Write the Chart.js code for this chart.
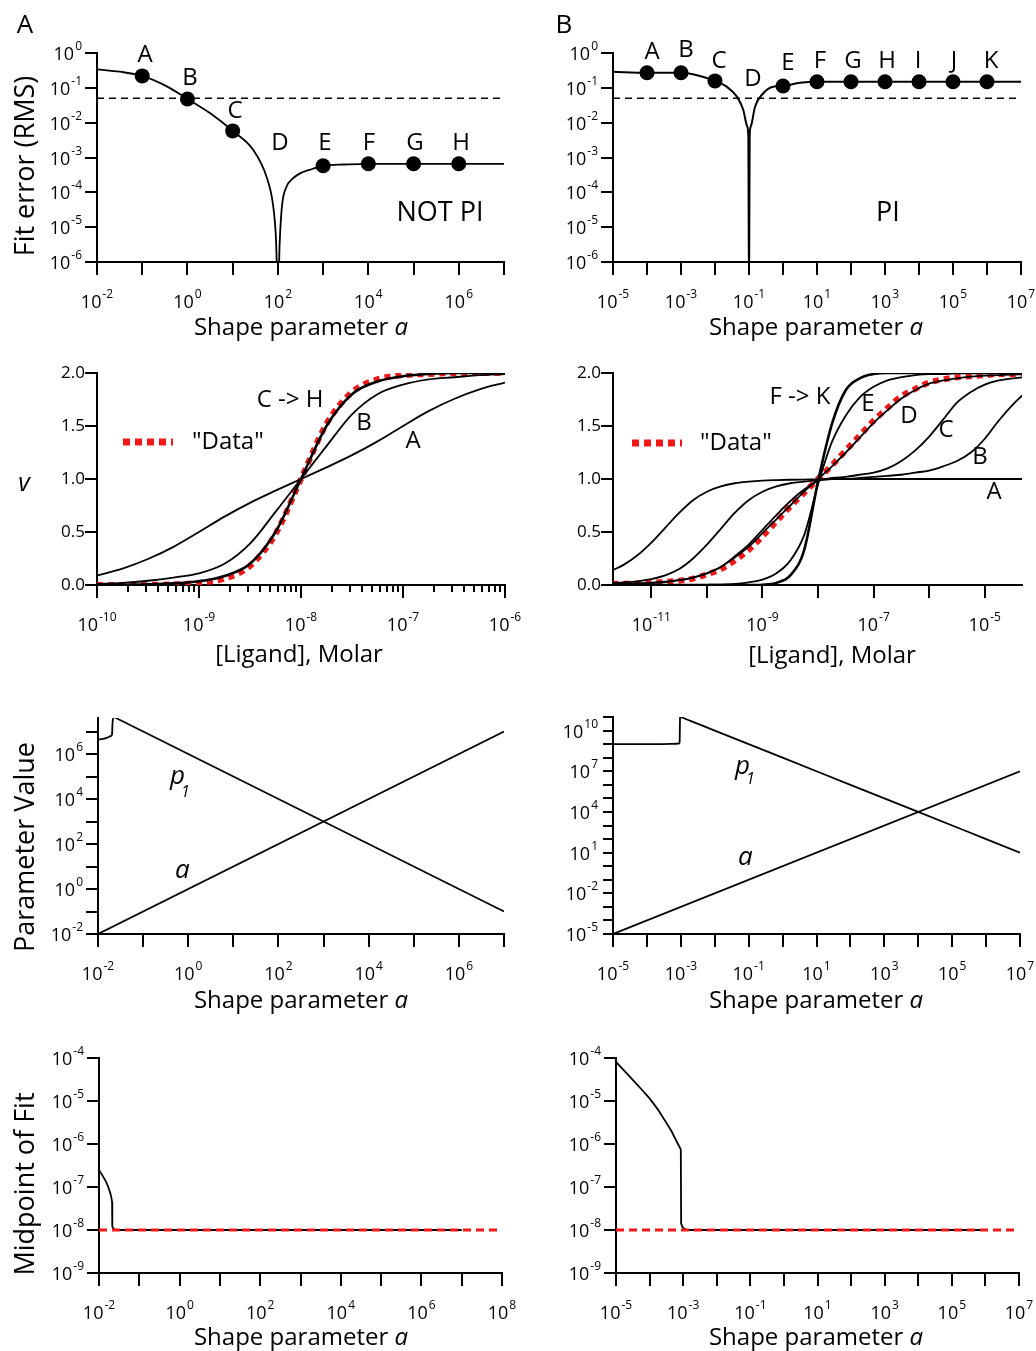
<!DOCTYPE html>
<html>
<head>
<meta charset="utf-8">
<script src="https://cdn.jsdelivr.net/npm/chart.js@4.4.1/dist/chart.umd.min.js"></script>
<style>
  html, body { margin: 0; padding: 0; background: #fff; }
  #wrap { position: relative; width: 1036px; height: 1351px; overflow: hidden; }
  #wrap canvas { position: absolute; left: 0; top: 0; }
</style>
</head>
<body>
<div id="wrap"></div>
<script>
const FONT = '"Open Sans", "DejaVu Sans", sans-serif';
const RED = "#f01818";

// Fit error (RMS) vs shape parameter a, NOT PI case
const errAx = [0.01, 0.032, 0.1, 0.35, 1, 3.2, 10, 29, 56, 79, 91, 100, 110, 123, 155, 200, 309, 500, 1000, 3000, 1e4, 1e5, 1e6, 1e7];
const errAy = [0.34, 0.29, 0.22, 0.11, 0.048, 0.0186, 0.0058, 0.0016, 2.8e-4, 3.9e-5, 4.3e-6, 1e-7, 4e-6, 4e-5, 1.45e-4, 2.3e-4, 3.5e-4, 4.4e-4, 5.8e-4, 6.3e-4, 6.6e-4, 6.6e-4, 6.6e-4, 6.6e-4];
const dotAx = [0.1, 1, 10, 1000, 1e4, 1e5, 1e6];
const dotAy = [0.22, 0.048, 0.0058, 5.8e-4, 6.6e-4, 6.6e-4, 6.6e-4];

// Fit error (RMS) vs shape parameter a, PI case
const errBx = [1e-5, 1e-4, 1e-3, 3.6e-3, 0.01, 0.022, 0.044, 0.068, 0.089, 0.0955, 0.1, 0.1047, 0.112, 0.151, 0.263, 0.513, 1, 3.16, 10, 1e7];
const errBy = [0.29, 0.27, 0.27, 0.22, 0.158, 0.108, 0.056, 0.023, 0.0076, 0.004, 1e-7, 0.004, 0.0076, 0.029, 0.07, 0.108, 0.113, 0.14, 0.15, 0.15];
const dotBx = [1e-4, 1e-3, 0.01, 1, 10, 100, 1e3, 1e4, 1e5, 1e6];
const dotBy = [0.27, 0.27, 0.158, 0.113, 0.15, 0.15, 0.15, 0.15, 0.15, 0.15];

const errLimit = 0.05;

// Binding curves, NOT PI (log10 of ligand molar)
const ligA = [-10, -9.75, -9.5, -9.25, -9, -8.75, -8.5, -8.25, -8, -7.75, -7.5, -7.25, -7, -6.75, -6.5, -6.25, -6];
const vA_A = [0.09, 0.155, 0.245, 0.36, 0.50, 0.645, 0.775, 0.89, 1.0, 1.11, 1.225, 1.355, 1.50, 1.64, 1.755, 1.845, 1.91];
const vA_B = [0.01, 0.02, 0.04, 0.07, 0.11, 0.20, 0.39, 0.69, 1.0, 1.31, 1.61, 1.80, 1.89, 1.94, 1.96, 1.98, 1.99];
const vA_CH = [0.0, 0.002, 0.006, 0.015, 0.035, 0.085, 0.20, 0.50, 1.0, 1.50, 1.80, 1.92, 1.97, 1.99, 2.0, 2.0, 2.0];
const vA_data = [0.0, 0.001, 0.002, 0.006, 0.02, 0.06, 0.18, 0.48, 1.0, 1.52, 1.82, 1.94, 1.98, 1.99, 2.0, 2.0, 2.0];

// Binding curves, PI (log10 of ligand molar)
const ligB = [-11.7, -11.5, -11.25, -11, -10.75, -10.5, -10.25, -10, -9.75, -9.5, -9.25, -9, -8.75, -8.5, -8.25, -8,
              -7.75, -7.5, -7.25, -7, -6.75, -6.5, -6.25, -6, -5.75, -5.5, -5.25, -5, -4.75, -4.5, -4.3];
const vB_A = [0.14, 0.19, 0.28, 0.40, 0.54, 0.68, 0.80, 0.88, 0.93, 0.96, 0.975, 0.985, 0.99, 0.993, 0.995, 0.997,
              0.998, 1, 1, 1, 1, 1, 1, 1, 1, 1, 1, 1, 1, 1, 1];
const vB_B = [0.02, 0.025, 0.035, 0.055, 0.09, 0.15, 0.25, 0.38, 0.53, 0.68, 0.80, 0.88, 0.93, 0.96, 0.975, 0.99,
              1.0, 1.0, 1.01, 1.02, 1.03, 1.04, 1.06, 1.08, 1.12, 1.17, 1.25, 1.38, 1.55, 1.70, 1.80];
const vB_C = [0.005, 0.008, 0.012, 0.018, 0.028, 0.045, 0.07, 0.11, 0.17, 0.27, 0.38, 0.52, 0.66, 0.79, 0.90, 0.98,
              1.01, 1.02, 1.04, 1.06, 1.10, 1.17, 1.27, 1.40, 1.56, 1.72, 1.82, 1.89, 1.93, 1.95, 1.96];
const vB_D = [0.01, 0.012, 0.016, 0.022, 0.032, 0.045, 0.07, 0.11, 0.17, 0.26, 0.36, 0.49, 0.62, 0.75, 0.88, 1.0,
              1.12, 1.25, 1.39, 1.53, 1.65, 1.76, 1.84, 1.90, 1.93, 1.95, 1.965, 1.975, 1.98, 1.985, 1.99];
const vB_E = [0, 0, 0, 0, 0, 0, 0.001, 0.002, 0.004, 0.01, 0.025, 0.05, 0.11, 0.23, 0.47, 0.95,
              1.35, 1.60, 1.77, 1.87, 1.93, 1.96, 1.98, 1.99, 1.99, 2, 2, 2, 2, 2, 2];
const vB_FK = [0, 0, 0, 0, 0, 0, 0, 0, 0, 0, 0, 0.003, 0.02, 0.09, 0.33, 0.98,
               1.52, 1.84, 1.95, 1.99, 2, 2, 2, 2, 2, 2, 2, 2, 2, 2, 2];
const vB_data = [0.01, 0.012, 0.015, 0.02, 0.03, 0.04, 0.06, 0.10, 0.15, 0.23, 0.33, 0.46, 0.60, 0.74, 0.87, 1.0,
                 1.13, 1.27, 1.41, 1.55, 1.67, 1.78, 1.85, 1.91, 1.94, 1.96, 1.97, 1.98, 1.99, 1.99, 2.0];

// Parameter values vs a
const parAx = [0.01, 1e7];
const parAy = [0.01, 1e7];
const p1Ax = [0.01, 0.013, 0.016, 0.019, 0.0205, 0.021, 0.0225, 0.024, 0.03, 0.05, 0.1, 1, 10, 100, 1000, 1e4, 1e5, 1e6, 1e7];
const p1Ay = [4.4e6, 4.7e6, 5.3e6, 6.2e6, 7.6e6, 2.4e7, 4.4e7, 4.17e7, 3.33e7, 2e7, 1e7, 1e6, 1e5, 1e4, 1e3, 100, 10, 1, 0.1];
const parBx = [1e-5, 1e7];
const parBy = [1e-5, 1e7];
const p1Bx = [1e-5, 1e-4, 3e-4, 6e-4, 8.5e-4, 9.2e-4, 9.5e-4, 1e-3, 2e-3, 0.01, 0.1, 1, 10, 100, 1e3, 1e4, 1e5, 1e6, 1e7];
const p1By = [1e9, 1e9, 1.01e9, 1.04e9, 1.1e9, 1.3e9, 1.05e11, 1e11, 5e10, 1e10, 1e9, 1e8, 1e7, 1e6, 1e5, 1e4, 1e3, 100, 10];

// Midpoint of fit vs a
const midAx = [0.01, 0.0112, 0.0129, 0.0148, 0.017, 0.0191, 0.0204, 0.0211, 0.0214, 0.0229, 0.0251, 0.0282, 0.0331, 1e7];
const midAy = [2.5e-7, 2.1e-7, 1.7e-7, 1.35e-7, 1.0e-7, 7.2e-8, 5.5e-8, 4.5e-8, 1.2e-8, 1.06e-8, 1.02e-8, 1.007e-8, 1.0e-8, 1.0e-8];
const midBx = [1e-5, 1.78e-5, 3.16e-5, 5.62e-5, 1e-4, 1.78e-4, 3.16e-4, 4.47e-4, 6.31e-4, 7.94e-4, 8.51e-4, 8.71e-4, 9.55e-4, 1.07e-3, 1.26e-3, 1.58e-3, 7.6e5];
const midBy = [8.1e-5, 5.0e-5, 3.1e-5, 1.9e-5, 1.15e-5, 6.3e-6, 3.1e-6, 2.0e-6, 1.17e-6, 8.3e-7, 7.4e-7, 1.41e-8, 1.17e-8, 1.07e-8, 1.02e-8, 1.0e-8, 1.0e-8];
const trueMid = 1e-8;

// ---------- helpers ----------
function decades(a, b) {
    const t = [];
    for (let e = a; e <= b; e++) t.push(Math.pow(10, e));
    return t;
}
function pts(xs, ys) {
    return xs.map((x, i) => ({ x: x, y: ys[i] }));
}
function fromLog(ls) {
    return ls.map(l => Math.pow(10, l));
}

function axis(type, pos, min, max, ticks, len, border) {
    return {
        type: type, position: pos, min: min, max: max,
        afterBuildTicks: s => { s.ticks = ticks.map(v => ({ value: v })); },
        afterFit: s => { if (pos === "bottom") s.height = 0; else s.width = 0; },
        ticks: { autoSkip: false, maxRotation: 0, minRotation: 0, callback: () => "" },
        grid: { drawOnChartArea: false, drawTicks: true, tickLength: len, color: "#000", lineWidth: 2 },
        border: { display: border !== false, color: "#000", width: 2 }
    };
}

function line(xs, ys, opt) {
    return Object.assign({
        data: pts(xs, ys),
        borderColor: "#000", borderWidth: 1.8, pointRadius: 0, fill: false,
        cubicInterpolationMode: "monotone"
    }, opt || {});
}
function dots(xs, ys) {
    return {
        data: pts(xs, ys), showLine: false,
        pointRadius: 7.5, pointBackgroundColor: "#000", pointBorderWidth: 0
    };
}

// "10" with superscript exponent
function powLabel(ctx, e, x, y, align) {
    const exp = e < 0 ? "-" + (-e) : String(e);
    ctx.font = "18px " + FONT;
    const w1 = ctx.measureText("10").width;
    ctx.font = "12px " + FONT;
    const w2 = ctx.measureText(exp).width;
    const w = w1 + w2 + 1;
    const x0 = align === "center" ? x - w / 2 : x - w;
    ctx.textAlign = "left";
    ctx.textBaseline = "alphabetic";
    ctx.font = "18px " + FONT;
    ctx.fillText("10", x0, y);
    ctx.font = "12px " + FONT;
    ctx.fillText(exp, x0 + w1 + 1, y - 10);
}

function drawTexts(ctx, items) {
    items.forEach(t => {
        ctx.save();
        ctx.fillStyle = "#000";
        if (t.seg) {
            // legend sample for "Data"
            ctx.strokeStyle = RED;
            ctx.lineWidth = 7;
            ctx.setLineDash([7, 5]);
            ctx.beginPath();
            ctx.moveTo(t.seg[0], t.seg[2]);
            ctx.lineTo(t.seg[1], t.seg[2]);
            ctx.stroke();
        } else if (t.parts) {
            // text with an italic part, centred
            let w = 0;
            t.parts.forEach(p => {
                ctx.font = (p[1] ? "italic " : "") + t.size + "px " + FONT;
                w += ctx.measureText(p[0]).width;
            });
            let x = t.x - w / 2;
            ctx.textAlign = "left";
            ctx.textBaseline = "alphabetic";
            t.parts.forEach(p => {
                ctx.font = (p[1] ? "italic " : "") + t.size + "px " + FONT;
                ctx.fillText(p[0], x, t.y);
                x += ctx.measureText(p[0]).width;
            });
        } else {
            ctx.font = (t.it ? "italic " : "") + (t.size || 24) + "px " + FONT;
            ctx.textAlign = t.al || "center";
            ctx.textBaseline = t.bl || "middle";
            ctx.translate(t.x, t.y);
            if (t.rot) ctx.rotate(-Math.PI / 2);
            ctx.fillText(t.t, 0, 0);
        }
        ctx.restore();
    });
}

function makePanel(p) {
    const wrap = document.getElementById("wrap");
    const cv = document.createElement("canvas");
    cv.width = 1036;
    cv.height = 1351;
    wrap.appendChild(cv);

    const scales = {
        x: axis("logarithmic", "bottom", p.x[0], p.x[1], p.xTicks, 13),
        y: axis(p.yType || "logarithmic", "left", p.y[0], p.y[1], p.yTicks, p.yLen || 12)
    };
    if (p.xMinor) {
        scales.xm = axis("logarithmic", "bottom", p.x[0], p.x[1], p.xMinor, 7, false);
        p.datasets.forEach(d => { d.xAxisID = "x"; });
    }

    const labelPlugin = {
        id: "labels_" + Math.random().toString(36).slice(2),
        afterDraw(chart) {
            const ctx = chart.ctx;
            const xs = chart.scales.x, ys = chart.scales.y;
            ctx.save();
            ctx.fillStyle = "#000";
            (p.xExp || []).forEach(e => powLabel(ctx, e, xs.getPixelForValue(Math.pow(10, e)), xs.top + 46, "center"));
            (p.yExp || []).forEach(e => powLabel(ctx, e, ys.right - 15, ys.getPixelForValue(Math.pow(10, e)) + 7, "right"));
            (p.yNum || []).forEach(v => {
                ctx.font = "17px " + FONT;
                ctx.textAlign = "right";
                ctx.textBaseline = "middle";
                ctx.fillText(v.toFixed(1), ys.right - 12, ys.getPixelForValue(v));
            });
            drawTexts(ctx, p.texts);
            ctx.restore();
        }
    };

    new Chart(cv.getContext("2d"), {
        type: "line",
        data: { datasets: p.datasets },
        options: {
            responsive: false,
            animation: false,
            events: [],
            devicePixelRatio: 1,
            layout: { padding: { left: p.box[0], top: p.box[1], right: 1036 - p.box[2], bottom: 1351 - p.box[3] } },
            plugins: { legend: { display: false }, tooltip: { enabled: false } },
            scales: scales
        },
        plugins: [labelPlugin]
    });
}

document.addEventListener("DOMContentLoaded", () => {
    const minorA = [];
    for (let e = -10; e < -6; e++) for (let k = 2; k <= 9; k++) minorA.push(k * Math.pow(10, e));
    const straight = { cubicInterpolationMode: "default", tension: 0 };
    const dash = Object.assign({ borderDash: [7, 5], borderWidth: 1.5 }, straight);
    const redDash = Object.assign({ borderColor: RED, borderDash: [8, 5], borderWidth: 3 }, straight);
    const redDots = { borderColor: RED, borderDash: [6, 5], borderWidth: 6 };
    const shape = [["Shape parameter ", 0], ["a", 1]];

    // A, top: fit error
    makePanel({
        box: [97, 53, 504, 262], x: [1e-2, 1e7], y: [1e-6, 1],
        xTicks: decades(-2, 7), yTicks: decades(-6, 0),
        xExp: [-2, 0, 2, 4, 6], yExp: [0, -1, -2, -3, -4, -5, -6],
        datasets: [
            dots(dotAx, dotAy),
            line(errAx, errAy),
            line([1e-2, 1e7], [errLimit, errLimit], dash)
        ],
        texts: [
            { t: "A", x: 25, y: 26, size: 26 },
            { t: "Fit error (RMS)", x: 26, y: 166, size: 27, rot: 1 },
            { parts: shape, x: 301, y: 335, size: 24 },
            { t: "A", x: 145, y: 55 }, { t: "B", x: 190, y: 78 }, { t: "C", x: 235, y: 111 },
            { t: "D", x: 280, y: 143 }, { t: "E", x: 325, y: 143 }, { t: "F", x: 369, y: 143 },
            { t: "G", x: 415, y: 143 }, { t: "H", x: 461, y: 143 },
            { t: "NOT PI", x: 440, y: 213, size: 27 }
        ]
    });

    // B, top: fit error
    makePanel({
        box: [613, 53, 1021, 262], x: [1e-5, 1e7], y: [1e-6, 1],
        xTicks: decades(-5, 7), yTicks: decades(-6, 0),
        xExp: [-5, -3, -1, 1, 3, 5, 7], yExp: [0, -1, -2, -3, -4, -5, -6],
        datasets: [
            dots(dotBx, dotBy),
            line(errBx, errBy, { borderWidth: 2 }),
            line([1e-5, 1e7], [errLimit, errLimit], dash)
        ],
        texts: [
            { t: "B", x: 564, y: 26, size: 26 },
            { parts: shape, x: 816, y: 335, size: 24 },
            { t: "A", x: 652, y: 52 }, { t: "B", x: 686, y: 50 }, { t: "C", x: 719, y: 61 },
            { t: "D", x: 753, y: 79 }, { t: "E", x: 788, y: 63 }, { t: "F", x: 820, y: 61 },
            { t: "G", x: 853, y: 61 }, { t: "H", x: 887, y: 61 }, { t: "I", x: 918, y: 61 },
            { t: "J", x: 954, y: 61 }, { t: "K", x: 991, y: 61 },
            { t: "PI", x: 888, y: 213, size: 27 }
        ]
    });

    // A, middle: binding curves
    const xA = fromLog(ligA);
    makePanel({
        box: [97, 373, 505, 585], x: [1e-10, 1e-6], y: [0, 2], yType: "linear",
        xTicks: decades(-10, -6), xMinor: minorA, yTicks: [0, 0.5, 1, 1.5, 2],
        xExp: [-10, -9, -8, -7, -6], yNum: [0, 0.5, 1, 1.5, 2],
        datasets: [
            line(xA, vA_A),
            line(xA, vA_B),
            line(xA, vA_CH, { borderWidth: 2.6 }),
            line(xA, vA_data, redDots)
        ],
        texts: [
            { t: "v", x: 24, y: 484, size: 25, it: 1 },
            { parts: [["[Ligand], Molar", 0]], x: 299, y: 662, size: 24 },
            { t: "C -> H", x: 290, y: 400 }, { t: "B", x: 364, y: 423 }, { t: "A", x: 413, y: 441 },
            { seg: [123, 173, 442] },
            { t: "\"Data\"", x: 192, y: 442, al: "left" }
        ]
    });

    // B, middle: binding curves
    const xB = fromLog(ligB);
    makePanel({
        box: [613, 373, 1022, 585], x: [Math.pow(10, -11.69), Math.pow(10, -4.33)], y: [0, 2], yType: "linear",
        xTicks: decades(-11, -5), yTicks: [0, 0.5, 1, 1.5, 2],
        xExp: [-11, -9, -7, -5], yNum: [0, 0.5, 1, 1.5, 2],
        datasets: [
            line(xB, vB_A),
            line(xB, vB_B),
            line(xB, vB_C),
            line(xB, vB_D),
            line(xB, vB_E),
            line(xB, vB_FK, { borderWidth: 2.6 }),
            line(xB, vB_data, redDots)
        ],
        texts: [
            { parts: [["[Ligand], Molar", 0]], x: 832, y: 663, size: 24 },
            { t: "F -> K", x: 800, y: 397 }, { t: "E", x: 868, y: 404 }, { t: "D", x: 909, y: 416 },
            { t: "C", x: 946, y: 430 }, { t: "B", x: 980, y: 457 }, { t: "A", x: 994, y: 492 },
            { seg: [632, 682, 443] },
            { t: "\"Data\"", x: 700, y: 443, al: "left" }
        ]
    });

    // A, third row: parameter values
    makePanel({
        box: [98, 718, 504, 934], x: [1e-2, 1e7], y: [1e-2, Math.pow(10, 7.6)],
        xTicks: decades(-2, 7), yTicks: decades(-2, 7),
        xExp: [-2, 0, 2, 4, 6], yExp: [-2, 0, 2, 4, 6],
        datasets: [
            line(parAx, parAy, straight),
            line(p1Ax, p1Ay)
        ],
        texts: [
            { t: "Parameter Value", x: 26, y: 847, size: 27, rot: 1 },
            { parts: shape, x: 301, y: 1008, size: 24 },
            { t: "p", x: 170, y: 784, size: 26, it: 1, al: "left", bl: "alphabetic" },
            { t: "1", x: 181, y: 797, size: 16, it: 1, al: "left", bl: "alphabetic" },
            { t: "a", x: 175, y: 878, size: 26, it: 1, al: "left", bl: "alphabetic" }
        ]
    });

    // B, third row: parameter values
    makePanel({
        box: [613, 717, 1020, 934], x: [1e-5, 1e7], y: [1e-5, 1e11], yLen: 10,
        xTicks: decades(-5, 7), yTicks: decades(-5, 11),
        xExp: [-5, -3, -1, 1, 3, 5, 7], yExp: [-5, -2, 1, 4, 7, 10],
        datasets: [
            line(parBx, parBy, straight),
            line(p1Bx, p1By)
        ],
        texts: [
            { parts: shape, x: 816, y: 1008, size: 24 },
            { t: "p", x: 735, y: 774, size: 26, it: 1, al: "left", bl: "alphabetic" },
            { t: "1", x: 746, y: 784, size: 16, it: 1, al: "left", bl: "alphabetic" },
            { t: "a", x: 738, y: 865, size: 26, it: 1, al: "left", bl: "alphabetic" }
        ]
    });

    // A, bottom: midpoint of fit
    makePanel({
        box: [99, 1058, 502, 1273], x: [1e-2, 1e8], y: [1e-9, 1e-4],
        xTicks: decades(-2, 8), yTicks: decades(-9, -4),
        xExp: [-2, 0, 2, 4, 6, 8], yExp: [-4, -5, -6, -7, -8, -9],
        datasets: [
            line([1e-2, 1e8], [trueMid, trueMid], redDash),
            line(midAx, midAy, straight)
        ],
        texts: [
            { t: "Midpoint of Fit", x: 26, y: 1184, size: 27, rot: 1 },
            { parts: shape, x: 301, y: 1345, size: 24 }
        ]
    });

    // B, bottom: midpoint of fit
    makePanel({
        box: [616, 1058, 1019, 1273], x: [1e-5, 1e7], y: [1e-9, 1e-4],
        xTicks: decades(-5, 7), yTicks: decades(-9, -4),
        xExp: [-5, -3, -1, 1, 3, 5, 7], yExp: [-4, -5, -6, -7, -8, -9],
        datasets: [
            line([1e-5, 1e7], [trueMid, trueMid], redDash),
            line(midBx, midBy, straight)
        ],
        texts: [
            { parts: shape, x: 816, y: 1345, size: 24 }
        ]
    });
});
</script>
</body>
</html>
